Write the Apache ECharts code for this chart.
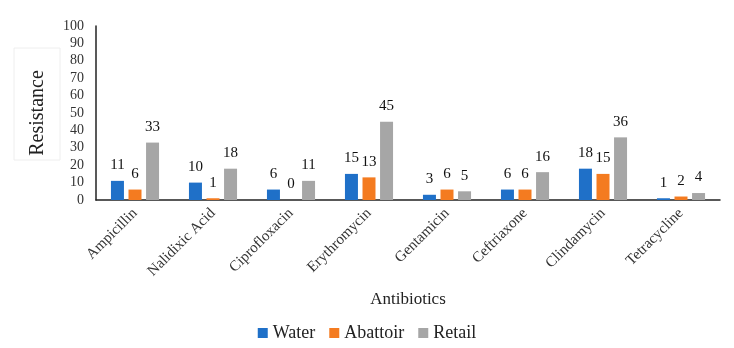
<!DOCTYPE html>
<html>
<head>
<meta charset="utf-8">
<script src="https://cdn.jsdelivr.net/npm/echarts@6/dist/echarts.min.js"></script>
<style>
  html, body { margin: 0; padding: 0; background: #fff; }
  #chart { width: 734px; height: 348px; }
</style>
</head>
<body>
<div id="chart"></div>
<script>
const categories = ['Ampicillin', 'Nalidixic Acid', 'Ciprofloxacin', 'Erythromycin',
  'Gentamicin', 'Ceftriaxone', 'Clindamycin', 'Tetracycline'];
const water = [11, 10, 6, 15, 3, 6, 18, 1];
const abattoir = [6, 1, 0, 13, 6, 6, 15, 2];
const retail = [33, 18, 11, 45, 5, 16, 36, 4];

const serif = '"Liberation Serif", "DejaVu Serif", serif';

const myChart = echarts.init(document.getElementById('chart'));

// one bar series per sample source
const mk = (name, data, color) => ({
  name,
  type: 'bar',
  data,
  barWidth: 13,
  barGap: '35%',
  itemStyle: { color },
  label: {
    show: true,
    position: 'top',
    distance: 8,
    color: '#111',
    fontFamily: serif,
    fontSize: 15
  }
});

myChart.setOption({
  animation: false,
  textStyle: { fontFamily: serif },
  grid: { left: 96, right: 14, top: 26, bottom: 148 },
  graphic: [{
    type: 'rect',
    shape: { x: 14, y: 48, width: 46, height: 112 },
    style: { fill: 'none', stroke: '#eeeeee', lineWidth: 1 }
  }],
  legend: {
    top: 319,
    left: 'center',
    itemWidth: 10,
    itemHeight: 10,
    itemGap: 14,
    icon: 'rect',
    textStyle: { fontFamily: serif, fontSize: 18, color: '#222' },
    data: ['Water', 'Abattoir', 'Retail']
  },
  xAxis: {
    type: 'category',
    data: categories,
    name: 'Antibiotics',
    nameLocation: 'middle',
    nameGap: 91,
    nameTextStyle: { fontFamily: serif, fontSize: 17, color: '#222' },
    axisTick: { show: false },
    axisLine: { lineStyle: { color: '#222', width: 1.5 } },
    axisLabel: {
      rotate: 45,
      margin: 11,
      interval: 0,
      color: '#333',
      fontFamily: serif,
      fontSize: 15
    }
  },
  yAxis: {
    type: 'value',
    min: 0,
    max: 100,
    interval: 10,
    name: 'Resistance',
    nameLocation: 'middle',
    nameGap: 48,
    nameRotate: 90,
    nameTextStyle: { fontFamily: serif, fontSize: 20, color: '#222' },
    splitLine: { show: false },
    axisTick: { show: false },
    axisLine: { show: true, lineStyle: { color: '#222', width: 1.5 } },
    axisLabel: { margin: 12, color: '#333', fontFamily: serif, fontSize: 14 }
  },
  series: [
    mk('Water', water, '#1f70c8'),
    mk('Abattoir', abattoir, '#f47b20'),
    mk('Retail', retail, '#a6a6a6')
  ]
});
</script>
</body>
</html>
